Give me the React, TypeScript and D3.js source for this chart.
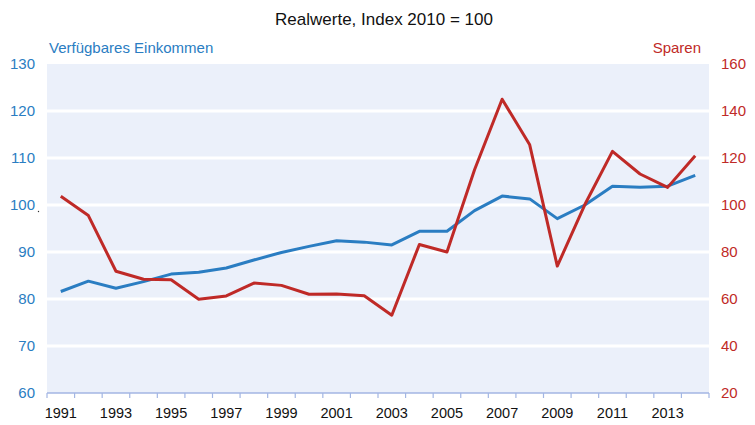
import React from "react";
import * as d3 from "d3";

const years = d3.range(1991, 2015).map(String);
const einkommen = [81.6, 83.8, 82.3, 83.7, 85.3, 85.7, 86.6, 88.3, 89.9, 91.2, 92.4, 92.1, 91.5, 94.4, 94.4, 98.8, 101.9, 101.3, 97.1, 100.0, 104.0, 103.8, 104.0, 106.3];
const sparen = [103.7, 95.5, 71.8, 68.4, 68.2, 59.9, 61.3, 66.8, 65.8, 62.0, 62.1, 61.4, 53.1, 83.2, 80.0, 115.0, 145.0, 125.6, 74.0, 100.2, 122.8, 113.2, 107.5, 121.0];
const leftTicks = [60, 70, 80, 90, 100, 110, 120, 130];
const rightTicks = [20, 40, 60, 80, 100, 120, 140, 160];
const xLabels = years.filter((y) => +y % 2 === 1);

const BLUE = "#2a7dc2";
const RED = "#bf2a27";
const FONT = "'Liberation Sans', Arial, sans-serif";

export default function App() {
  const W = 755, H = 425;
  const L = 47, R = 709, T = 64, B = 393;
  const x = d3.scaleBand<string>().domain(years).range([L, R]);
  const yL = d3.scaleLinear().domain([60, 130]).range([B, T]);
  const yR = d3.scaleLinear().domain([20, 160]).range([B, T]);
  const cx = (d: string) => (x(d) as number) + x.bandwidth() / 2;
  const lineL = d3.line<number>().x((_, i) => cx(years[i])).y((v) => yL(v));
  const lineR = d3.line<number>().x((_, i) => cx(years[i])).y((v) => yR(v));
  const tickXs = years.map((y) => x(y) as number).concat([R]);

  return (
    <svg width={W} height={H} style={{ position: "absolute", left: 0, top: 0 }} fontFamily={FONT}>
      <rect x={0} y={0} width={W} height={H} fill="#fff" />
      <text x={384} y={25} textAnchor="middle" fontSize={17} fill="#111">Realwerte, Index 2010 = 100</text>
      <text x={49} y={53} fontSize={15} fill={BLUE}>Verfügbares Einkommen</text>
      <text x={701} y={53} fontSize={15} textAnchor="end" fill={RED}>Sparen</text>
      <rect x={L} y={T} width={R - L} height={B - T} fill="#ebf0fa" />
      {leftTicks.slice(1, -1).map((t) => (
        <line key={t} x1={L} x2={R} y1={yL(t)} y2={yL(t)} stroke="#fff" strokeWidth={3} />
      ))}
      {leftTicks.map((t) => (
        <text key={t} x={35} y={yL(t) + 5} textAnchor="end" fontSize={15} fill={BLUE}>{t}</text>
      ))}
      {rightTicks.map((t) => (
        <text key={t} x={721} y={yR(t) + 5} textAnchor="start" fontSize={15} fill={RED}>{t}</text>
      ))}
      <circle cx={38.5} cy={211.5} r={0.7} fill="#333" />
      <line x1={L} x2={R} y1={B} y2={B} stroke="#a3b6e3" strokeWidth={1.5} />
      {tickXs.map((tx, i) => (
        <line key={i} x1={tx} x2={tx} y1={B} y2={B + 5} stroke="#a3b6e3" strokeWidth={1.2} />
      ))}
      {xLabels.map((y) => (
        <text key={y} x={cx(y)} y={418} textAnchor="middle" fontSize={14.5} fill="#111">{y}</text>
      ))}
      <path d={lineL(einkommen) as string} fill="none" stroke={BLUE} strokeWidth={3} strokeLinejoin="round" />
      <path d={lineR(sparen) as string} fill="none" stroke={RED} strokeWidth={3} strokeLinejoin="round" />
    </svg>
  );
}
